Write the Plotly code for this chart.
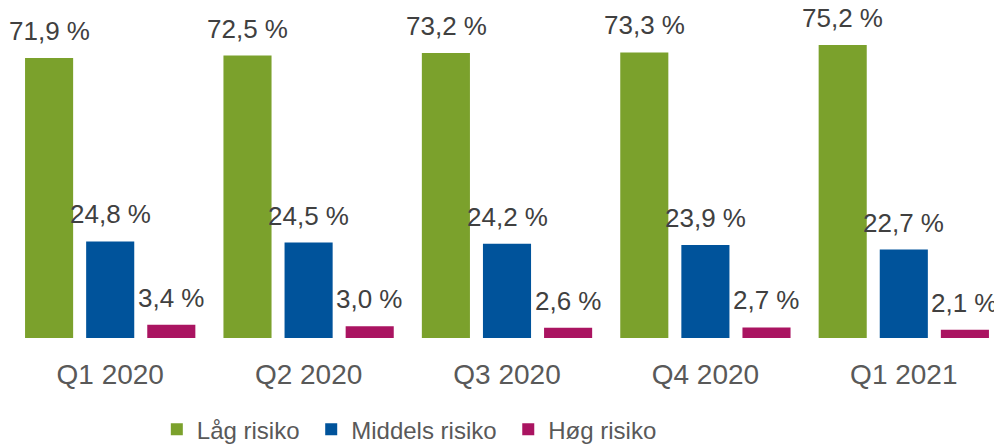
import plotly.graph_objects as go

kvartaler = ["Q1 2020", "Q2 2020", "Q3 2020", "Q4 2020", "Q1 2021"]
lav = [71.9, 72.5, 73.2, 73.3, 75.2]
middels = [24.8, 24.5, 24.2, 23.9, 22.7]
hoy = [3.4, 3.0, 2.6, 2.7, 2.1]

serier = [
    ("Låg risiko", lav, "#7BA12C"),
    ("Middels risiko", middels, "#00539B"),
    ("Høg risiko", hoy, "#AA1461"),
]


def fmt(v):
    return f"{v:.1f} %".replace(".", ",")


fig = go.Figure()
for i, (navn, verdier, farge) in enumerate(serier):
    fig.add_trace(go.Bar(
        x=kvartaler, y=verdier, name=navn + "\u00a0",
        marker=dict(color=farge, line=dict(width=0)),
    ))
    # verdietiketter over søylene
    for k, v in zip(kvartaler, verdier):
        fig.add_annotation(
            x=k, y=v, text=fmt(v), showarrow=False,
            xshift=(i - 1) * 61, yshift=27, yanchor="middle",
            font=dict(size=26, color="#404040"),
        )

fig.update_layout(
    width=1002, height=446,
    margin=dict(l=3, r=7, t=18, b=116, autoexpand=False),
    paper_bgcolor="white", plot_bgcolor="white",
    font=dict(family="Liberation Sans, Arial", color="#595959"),
    barmode="group", bargap=0.076, bargroupgap=0.213,
    showlegend=True,
    legend=dict(
        orientation="h", x=0.147, xanchor="left", y=-0.222, yanchor="top",
        font=dict(size=24, color="#595959"),
        itemwidth=30, traceorder="normal",
    ),
)
fig.update_xaxes(showgrid=False, showline=False, ticks="", ticklabelstandoff=17,
                 range=[-0.5, 4.5], tickfont=dict(size=28, color="#595959"))
fig.update_yaxes(visible=False, range=[0, 80.1], showgrid=False, zeroline=False)

fig.write_html("out.html")
